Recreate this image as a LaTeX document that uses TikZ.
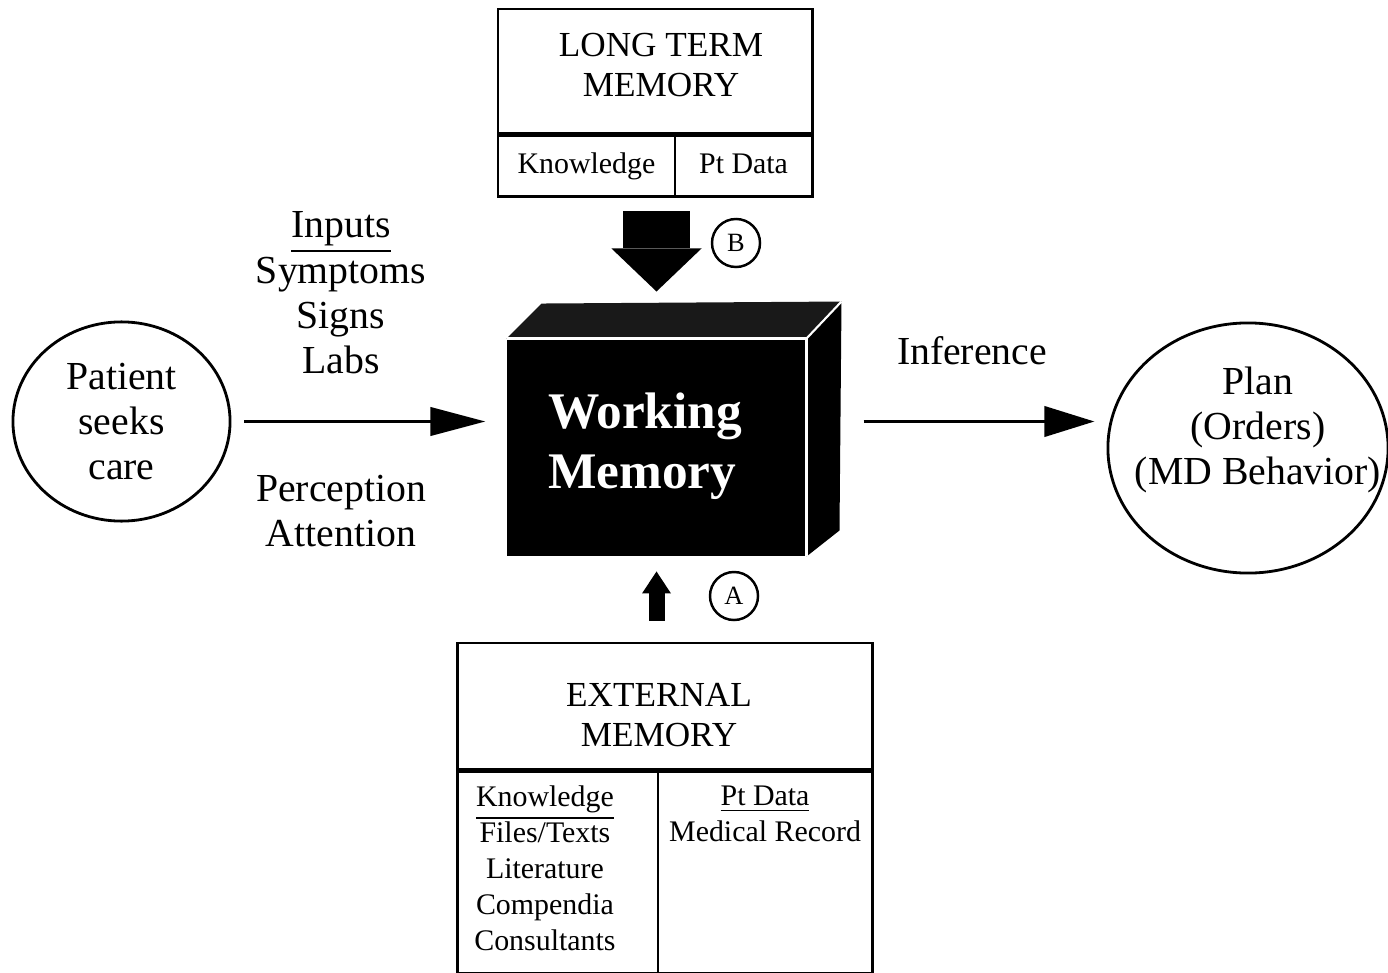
\documentclass[tikz,border=0pt]{standalone}
\usepackage{fontspec}
\setmainfont{Liberation Serif}
\usetikzlibrary{arrows.meta, calc, positioning, shapes.geometric}

\begin{document}
\begin{tikzpicture}[x=0.01cm,y=-0.01cm,line width=0.8pt,
  lbl/.style={align=center,font=\fontsize{11.3}{12.9}\selectfont},
  ttl/.style={align=center,font=\fontsize{10}{11.6}\selectfont},
  cell/.style={draw,text height=6pt,text depth=2pt,font=\fontsize{8.5}{10.2}\selectfont},
  lst/.style={align=center,inner sep=0pt,font=\fontsize{8.5}{10.2}\selectfont},
  tag/.style={draw,circle,line width=0.7pt,minimum size=0.48cm,inner sep=0pt,font=\fontsize{7.5}{9}\selectfont},
  flow/.style={line width=1.1pt,-{Triangle[length=0.55cm,width=0.28cm]}},
  fat/.style={line width=#1,shorten <=0.13cm}]
\useasboundingbox (0,0) rectangle (1388,973);

% long term memory, on top
\node[draw,minimum width=3.14cm,minimum height=1.24cm] (ltm) at (655,71) {};
\node[ttl] (ltmT) at (661,65) {LONG TERM\\MEMORY};
\node[cell,anchor=north west,minimum width=1.77cm,minimum height=0.61cm] (ltmK) at (ltm.south west) {Knowledge};
\node[cell,anchor=north east,minimum width=1.37cm,minimum height=0.61cm] (ltmP) at (ltm.south east) {Pt Data};

% the box in the middle
\node[fill=black,draw=black,minimum width=2.97cm,minimum height=2.15cm] (wm) at (656.5,447.5) {};
\fill[black!90] (wm.north west) -- ++(35,-35) -- ($(wm.north east)+(35,-37)$) -- (wm.north east) -- cycle;
\fill[black] (wm.north east) -- ++(35,-37) -- ($(wm.south east)+(33,-26)$) -- (wm.south east) -- cycle;
\draw[white,line width=0.6pt] (wm.north west) -- (wm.north east) -- (wm.south east);
\draw[white,line width=0.6pt] (wm.north east) -- ++(35,-37);
\node[text=white,align=left,font=\bfseries\fontsize{14.6}{17}\selectfont] (wmT) at (645,446) {Working\\Memory};

\node[draw,ellipse,lbl,minimum width=2.17cm,minimum height=1.87cm] (patient) at (121.5,421.5) {Patient\\seeks\\care};
\node[draw,ellipse,minimum width=2.8cm,minimum height=2.5cm] (plan) at (1248,448) {};
\node[lbl] (planT) at (1258,430) {Plan\\(Orders)\\(MD Behavior)};

\node[lbl] (inputs) at (341,293) {\underline{Inputs}\\Symptoms\\Signs\\Labs};
\node[lbl] (percep) at (341,511) {Perception\\Attention};
\node[lbl] (infer) at (972,351) {Inference};

% external memory, below
\node[draw,minimum width=4.14cm,minimum height=1.26cm] (ext) at (665,706) {};
\node[ttl] (extT) at (659,715) {EXTERNAL\\MEMORY};
\node[draw,anchor=north west,minimum width=2.0cm,minimum height=2.01cm] (extK) at (ext.south west) {};
\node[draw,anchor=north east,minimum width=2.14cm,minimum height=2.01cm] (extP) at (ext.south east) {};
\node[lst,below=0.14cm of extK.north,xshift=-0.13cm] (extKT) {\underline{Knowledge}\\Files/Texts\\Literature\\Compendia\\Consultants};
\node[lst,below=0.14cm of extP.north] (extPT) {\underline{Pt Data}\\Medical Record};

\node[tag] (tagB) at (736,243) {B};
\node[tag] (tagA) at (734,596) {A};

% arrows
\draw[flow,shorten <=0.13cm,shorten >=0.21cm] (patient.east) -- (patient.east -| wm.west);
\draw[flow,-{Triangle[length=0.5cm,width=0.3cm]},shorten <=0.57cm,shorten >=0.12cm] (patient.east -| wm.east) -- (patient.east -| plan.west);
\coordinate (ltmBot) at (wm.north |- ltmK.south);
\draw[fat=0.67cm,-{Triangle[length=0.43cm,width=0.9cm,line width=0pt]},shorten >=0.47cm] (ltmBot) -- (wm.north);
\draw[line width=0.16cm,-{Triangle[length=0.22cm,width=0.29cm,line width=0pt]},shorten <=0.21cm,shorten >=0.15cm] (wm.south |- ext.north) -- (wm.south);
\end{tikzpicture}
\end{document}
